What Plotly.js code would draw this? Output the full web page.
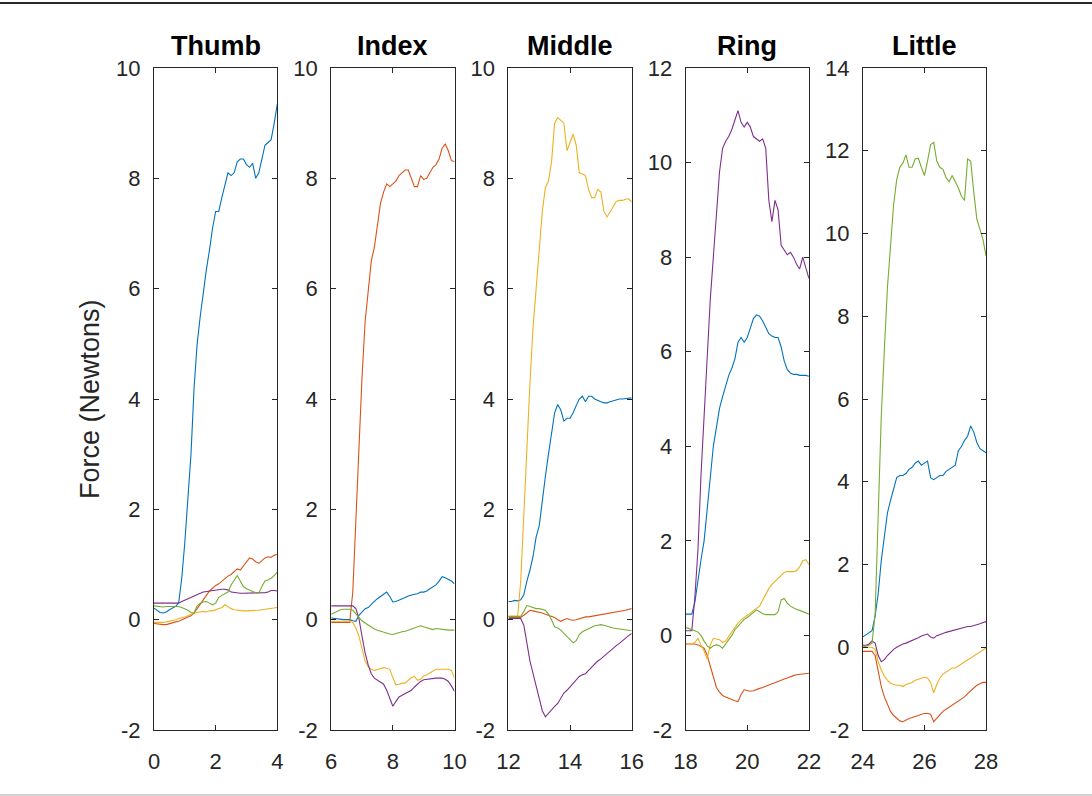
<!DOCTYPE html>
<html>
<head>
<meta charset="utf-8">
<script src="https://cdn.plot.ly/plotly-3.0.1.min.js"></script>
<style>
  html, body { margin: 0; padding: 0; background: #fff; }
  #chart { width: 1092px; height: 796px; }
</style>
</head>
<body>
<div id="chart"></div>
<script>
// time offsets inside each 4 s window
const offsets = [0, 0.1, 0.2, 0.3, 0.4, 0.5, 0.6, 0.7, 0.8, 0.9,
  1.0, 1.1, 1.2, 1.3, 1.4, 1.5, 1.6, 1.7, 1.8, 1.9,
  2.0, 2.1, 2.2, 2.3, 2.4, 2.5, 2.6, 2.7, 2.8, 2.9,
  3.0, 3.1, 3.2, 3.3, 3.4, 3.5, 3.6, 3.7, 3.8, 3.9, 4.0];
const fingers = ["Thumb", "Index", "Middle", "Ring", "Little"];
const windowStart = [0, 6, 12, 18, 24];
const yTop = [10, 10, 10, 12, 14];
const yBottom = -2;

// Thumb press
const thumbBlue = [0.21, 0.17, 0.13, 0.12, 0.14, 0.18, 0.21, 0.24, 0.3, 0.75,
  1.4, 2.2, 3.0, 4.2, 5.0, 5.5, 5.95, 6.35, 6.7, 7.1,
  7.4, 7.4, 7.65, 7.9, 8.1, 8.05, 8.1, 8.3, 8.35, 8.35,
  8.25, 8.2, 8.27, 8.0, 8.1, 8.35, 8.6, 8.65, 8.7, 9.0, 9.35];
const thumbOrange = [-0.07, -0.08, -0.08, -0.09, -0.09, -0.07, -0.06, -0.04, -0.03, 0.0,
  0.03, 0.05, 0.07, 0.12, 0.2, 0.28, 0.38, 0.45, 0.52, 0.57,
  0.62, 0.65, 0.7, 0.75, 0.79, 0.82, 0.87, 0.92, 0.9, 0.97,
  1.05, 1.12, 1.1, 1.05, 1.02, 1.08, 1.12, 1.14, 1.13, 1.17, 1.18];
const thumbYellow = [-0.05, -0.05, -0.06, -0.05, -0.04, -0.03, -0.02, 0.0, 0.02, 0.03,
  0.05, 0.07, 0.1, 0.12, 0.13, 0.14, 0.15, 0.14, 0.16, 0.16,
  0.18, 0.2, 0.22, 0.27, 0.23, 0.2, 0.18, 0.17, 0.16, 0.16,
  0.16, 0.16, 0.17, 0.17, 0.17, 0.18, 0.19, 0.2, 0.21, 0.22, 0.22];
const thumbPurple = [0.3, 0.3, 0.3, 0.3, 0.3, 0.3, 0.3, 0.3, 0.3, 0.33,
  0.35, 0.37, 0.4, 0.43, 0.46, 0.48, 0.5, 0.51, 0.52, 0.53,
  0.54, 0.54, 0.55, 0.55, 0.54, 0.5, 0.49, 0.49, 0.48, 0.48,
  0.48, 0.48, 0.48, 0.48, 0.48, 0.48, 0.49, 0.5, 0.53, 0.53, 0.52];
const thumbGreen = [0.25, 0.24, 0.23, 0.23, 0.24, 0.24, 0.24, 0.25, 0.24, 0.22,
  0.2, 0.17, 0.13, 0.12, 0.25, 0.3, 0.32, 0.33, 0.3, 0.27,
  0.3, 0.4, 0.44, 0.47, 0.5, 0.63, 0.72, 0.8, 0.7, 0.6,
  0.56, 0.53, 0.51, 0.49, 0.48, 0.6, 0.7, 0.72, 0.75, 0.8, 0.86];

// Index press
const indexBlue = [0.03, 0.02, 0.01, 0.0, 0.0, 0.0, 0.0, -0.02, -0.03, 0.08,
  0.15, 0.2, 0.22, 0.28, 0.33, 0.38, 0.42, 0.47, 0.5, 0.42,
  0.32, 0.33, 0.35, 0.37, 0.4, 0.43, 0.45, 0.46, 0.47, 0.5,
  0.5, 0.52, 0.56, 0.6, 0.63, 0.7, 0.78, 0.76, 0.73, 0.7, 0.65];
const indexOrange = [-0.05, -0.05, -0.05, -0.05, -0.05, -0.05, -0.05, 0.5, 1.9, 3.3,
  4.4, 5.4, 5.9, 6.5, 6.75, 7.2, 7.55, 7.75, 7.9, 7.85,
  7.9, 7.95, 8.05, 8.1, 8.15, 8.15, 8.0, 7.85, 7.85, 8.05,
  7.98, 8.0, 8.1, 8.2, 8.25, 8.35, 8.55, 8.62, 8.5, 8.32, 8.3];
const indexYellow = [-0.03, -0.03, -0.03, -0.03, -0.03, -0.03, -0.03, -0.05, -0.15, -0.3,
  -0.55, -0.75, -0.85, -0.9, -0.92, -0.9, -0.88, -0.87, -0.88, -0.9,
  -1.05, -1.18, -1.17, -1.15, -1.15, -1.1, -1.05, -1.03, -1.1, -1.08,
  -1.02, -1.0, -0.97, -0.93, -0.9, -0.9, -0.9, -0.9, -0.9, -0.92, -1.06];
const indexPurple = [0.25, 0.25, 0.25, 0.25, 0.25, 0.25, 0.25, 0.25, 0.2, 0.02,
  -0.3, -0.6, -0.82, -0.98, -1.06, -1.1, -1.13, -1.17, -1.28, -1.42,
  -1.57, -1.48, -1.4, -1.37, -1.34, -1.31, -1.28, -1.22, -1.16, -1.12,
  -1.09, -1.08, -1.07, -1.06, -1.06, -1.06, -1.06, -1.08, -1.12, -1.2, -1.3];
const indexGreen = [0.1, 0.13, 0.16, 0.18, 0.19, 0.19, 0.19, 0.17, 0.1, 0.04,
  -0.02, -0.06, -0.1, -0.14, -0.17, -0.19, -0.21, -0.22, -0.24, -0.26,
  -0.27, -0.25, -0.24, -0.22, -0.21, -0.19, -0.17, -0.14, -0.12, -0.11,
  -0.13, -0.15, -0.17, -0.18, -0.16, -0.17, -0.18, -0.18, -0.19, -0.19, -0.19];

// Middle press
const middleBlue = [0.33, 0.33, 0.35, 0.34, 0.36, 0.45, 0.7, 0.9, 1.15, 1.5,
  1.7, 2.2, 2.6, 3.0, 3.35, 3.75, 3.9, 3.8, 3.6, 3.65,
  3.65, 3.75, 3.88, 4.0, 4.05, 3.95, 4.05, 4.05, 4.0, 3.97,
  3.95, 3.93, 3.93, 3.95, 3.97, 3.98, 4.0, 4.0, 4.01, 4.02, 4.02];
const middleOrange = [0.04, 0.04, 0.04, 0.04, 0.04, 0.08, 0.13, 0.17, 0.16, 0.15,
  0.14, 0.12, 0.1, 0.08, 0.06, 0.04, 0.0, -0.03, 0.0, 0.02,
  0.0, -0.01, 0.0, 0.02, 0.04, 0.05, 0.05, 0.06, 0.07, 0.08,
  0.08, 0.09, 0.1, 0.11, 0.12, 0.13, 0.14, 0.15, 0.17, 0.19, 0.2];
const middleYellow = [0.06, 0.06, 0.06, 0.06, 0.7, 1.9, 3.2, 4.3, 5.3, 6.0,
  6.8, 7.4, 7.83, 7.95, 8.3, 9.0, 9.1, 9.05, 9.0, 8.5,
  8.65, 8.8, 8.6, 8.1, 8.08, 8.05, 7.8, 7.65, 7.65, 7.8,
  7.75, 7.4, 7.3, 7.4, 7.5, 7.58, 7.6, 7.6, 7.62, 7.63, 7.57];
const middlePurple = [0.02, 0.02, 0.02, 0.02, 0.02, -0.1, -0.45, -0.75, -0.98, -1.2,
  -1.46, -1.65, -1.76, -1.7, -1.62, -1.57, -1.52, -1.42, -1.33, -1.28,
  -1.22, -1.15, -1.08, -1.03, -1.0, -0.98, -0.92, -0.86, -0.8, -0.75,
  -0.71, -0.66, -0.61, -0.57, -0.52, -0.47, -0.43, -0.38, -0.33, -0.29, -0.25];
const middleGreen = [0.06, 0.06, 0.06, 0.06, 0.06, 0.15, 0.26, 0.24, 0.22, 0.2,
  0.2, 0.19, 0.17, 0.1, 0.0, -0.13, -0.15, -0.19, -0.25, -0.31,
  -0.36, -0.42, -0.38, -0.27, -0.22, -0.19, -0.17, -0.14, -0.11, -0.1,
  -0.09, -0.1, -0.12, -0.14, -0.15, -0.16, -0.17, -0.18, -0.19, -0.2, -0.2];

// Ring press
const ringBlue = [0.45, 0.45, 0.45, 0.7, 1.2, 1.6, 2.0, 2.7, 3.4, 4.0,
  4.4, 4.8, 5.05, 5.3, 5.5, 5.65, 5.85, 6.2, 6.3, 6.2,
  6.3, 6.5, 6.7, 6.78, 6.75, 6.65, 6.5, 6.38, 6.33, 6.3,
  6.3, 6.1, 5.8, 5.62, 5.55, 5.52, 5.52, 5.5, 5.5, 5.5, 5.48];
const ringOrange = [-0.18, -0.18, -0.18, -0.18, -0.2, -0.23, -0.27, -0.42, -0.65, -0.9,
  -1.1, -1.2, -1.27, -1.3, -1.33, -1.36, -1.38, -1.4, -1.25, -1.15,
  -1.17, -1.18, -1.17, -1.14, -1.12, -1.1, -1.07, -1.04, -1.02, -1.0,
  -0.97, -0.95, -0.92, -0.9, -0.87, -0.85, -0.83, -0.82, -0.81, -0.8, -0.8];
const ringYellow = [-0.18, -0.18, -0.18, -0.15, -0.06, -0.2, -0.33, -0.5, -0.2, -0.06,
  -0.08, -0.09, -0.15, -0.12, -0.02, 0.08, 0.18, 0.26, 0.33, 0.38,
  0.43, 0.47, 0.52, 0.56, 0.62, 0.75, 0.88, 0.99, 1.08, 1.15,
  1.2, 1.27, 1.33, 1.35, 1.35, 1.35, 1.37, 1.45, 1.58, 1.6, 1.5];
const ringPurple = [0.1, 0.1, 0.1, 0.8, 1.8, 3.4, 4.6, 5.8, 7.1, 8.0,
  8.9, 9.8, 10.3, 10.45, 10.55, 10.7, 10.9, 11.1, 10.85, 10.75,
  10.85, 10.75, 10.55, 10.5, 10.45, 10.5, 10.3, 9.2, 8.75, 9.2,
  9.0, 8.25, 8.15, 8.05, 8.1, 8.0, 7.85, 7.75, 8.0, 7.75, 7.55];
const ringGreen = [0.17, 0.15, 0.12, 0.1, 0.07, 0.0, -0.12, -0.22, -0.27, -0.22,
  -0.2, -0.22, -0.27, -0.18, -0.08, 0.0, 0.12, 0.2, 0.28, 0.34,
  0.38, 0.44, 0.5, 0.54, 0.5, 0.46, 0.44, 0.44, 0.44, 0.44,
  0.5, 0.75, 0.78, 0.68, 0.62, 0.58, 0.55, 0.53, 0.5, 0.47, 0.45];

// Little press
const littleBlue = [0.25, 0.3, 0.35, 0.4, 0.75, 1.3, 2.1, 2.75, 3.25, 3.55,
  3.85, 4.1, 4.15, 4.15, 4.2, 4.3, 4.35, 4.45, 4.5, 4.4,
  4.45, 4.5, 4.1, 4.05, 4.1, 4.15, 4.15, 4.25, 4.3, 4.35,
  4.4, 4.75, 4.85, 5.0, 5.1, 5.35, 5.2, 4.95, 4.8, 4.75, 4.7];
const littleOrange = [-0.1, -0.1, -0.1, -0.1, -0.2, -0.6, -0.95, -1.2, -1.4, -1.55,
  -1.65, -1.72, -1.78, -1.8, -1.75, -1.72, -1.7, -1.68, -1.65, -1.62,
  -1.6, -1.6, -1.62, -1.8, -1.72, -1.62, -1.55, -1.5, -1.45, -1.4,
  -1.35, -1.3, -1.25, -1.2, -1.12, -1.05, -0.98, -0.92, -0.88, -0.85, -0.85];
const littleYellow = [0.0, 0.0, 0.0, 0.0, -0.05, -0.35, -0.55, -0.7, -0.8, -0.87,
  -0.9, -0.92, -0.92, -0.95, -0.9, -0.88, -0.85, -0.8, -0.78, -0.75,
  -0.72, -0.75, -0.85, -1.1, -0.9, -0.75, -0.65, -0.6, -0.55, -0.5,
  -0.5, -0.45, -0.4, -0.35, -0.3, -0.25, -0.2, -0.15, -0.1, -0.05, -0.02];
const littlePurple = [0.05, 0.05, 0.08, 0.15, 0.1, -0.2, -0.35, -0.3, -0.2, -0.12,
  -0.05, 0.0, 0.05, 0.08, 0.1, 0.13, 0.16, 0.2, 0.23, 0.27,
  0.3, 0.32, 0.25, 0.22, 0.28, 0.3, 0.33, 0.36, 0.38, 0.4,
  0.42, 0.44, 0.45, 0.47, 0.5, 0.5, 0.52, 0.55, 0.57, 0.6, 0.62];
const littleGreen = [0.0, 0.02, 0.05, 0.1, 0.8, 3.2, 5.6, 7.2, 8.7, 9.7,
  10.7, 11.3, 11.6, 11.7, 11.9, 11.6, 11.6, 11.8, 11.82, 11.6,
  11.4, 11.75, 12.15, 12.2, 11.75, 11.6, 11.55, 11.35, 11.25, 11.4,
  11.25, 11.1, 10.9, 10.8, 11.8, 11.75, 11.0, 10.35, 10.1, 9.85, 9.45];

const sensors = [
  [thumbBlue, thumbOrange, thumbYellow, thumbPurple, thumbGreen],
  [indexBlue, indexOrange, indexYellow, indexPurple, indexGreen],
  [middleBlue, middleOrange, middleYellow, middlePurple, middleGreen],
  [ringBlue, ringOrange, ringYellow, ringPurple, ringGreen],
  [littleBlue, littleOrange, littleYellow, littlePurple, littleGreen],
];

const colors = ["#0072BD", "#D95319", "#EDB120", "#7E2F8E", "#77AC30"];
const W = 1092, H = 796;
const font = "Liberation Sans, Arial, Helvetica, sans-serif";

// tick labels use a plain hyphen for negatives, as in the source figure
function evenTicks(lo, hi) {
  const vals = [];
  for (let v = lo; v <= hi; v += 2) vals.push(v);
  return { tickvals: vals, ticktext: vals.map((v) => String(v)) };
}

const traces = [];
const layout = {
  width: W,
  height: H,
  margin: { l: 0, r: 0, t: 0, b: 0 },
  paper_bgcolor: "#ffffff",
  plot_bgcolor: "#ffffff",
  showlegend: false,
  annotations: [],
  shapes: [
    { type: "line", xref: "paper", yref: "paper", x0: 0, x1: 1,
      y0: (H - 3) / H, y1: (H - 3) / H, line: { color: "#2a2a2a", width: 2 } },
    { type: "line", xref: "paper", yref: "paper", x0: 0, x1: 1,
      y0: 1 / H, y1: 1 / H, line: { color: "#c4c4c4", width: 1.5 } },
  ],
};

const yDomain = [66 / H, 728 / H];

fingers.forEach((name, i) => {
  const n = i === 0 ? "" : String(i + 1);
  const left = 154 + 177.2 * i;
  const right = left + 123.3;
  const xs = offsets.map((o) => windowStart[i] + o);

  sensors[i].forEach((ys, j) => {
    traces.push({
      x: xs,
      y: ys,
      type: "scatter",
      mode: "lines",
      line: { color: colors[j], width: 1.1 },
      xaxis: "x" + n,
      yaxis: "y" + n,
      hoverinfo: "skip",
    });
  });

  const common = {
    showline: true,
    linecolor: "#262626",
    linewidth: 1,
    mirror: "allticks",
    ticks: "inside",
    ticklen: 5,
    tickwidth: 1,
    tickcolor: "#262626",
    showgrid: false,
    zeroline: false,
    tickmode: "array",
    tickfont: { family: font, size: 22, color: "#262626" },
    fixedrange: true,
  };

  layout["xaxis" + n] = Object.assign({}, common, evenTicks(windowStart[i], windowStart[i] + 4), {
    domain: [left / W, right / W],
    range: [windowStart[i], windowStart[i] + 4],
    anchor: "y" + n,
    ticklabelstandoff: 12,
  });
  layout["yaxis" + n] = Object.assign({}, common, evenTicks(yBottom, yTop[i]), {
    domain: yDomain,
    range: [yBottom, yTop[i]],
    anchor: "x" + n,
    ticklabelstandoff: 8,
  });

  layout.annotations.push({
    text: "<b>" + name + "</b>",
    xref: "paper",
    yref: "paper",
    x: (left + right) / 2 / W,
    y: yDomain[1],
    xanchor: "center",
    yanchor: "bottom",
    yshift: 5,
    showarrow: false,
    font: { family: font, size: 27, color: "#000000" },
  });
});

layout.annotations.push({
  text: "Force (Newtons)",
  xref: "paper",
  yref: "paper",
  x: 90 / W,
  y: (yDomain[0] + yDomain[1]) / 2,
  xanchor: "center",
  yanchor: "middle",
  textangle: -90,
  showarrow: false,
  font: { family: font, size: 27, color: "#262626" },
});

Plotly.newPlot("chart", traces, layout, { displayModeBar: false, staticPlot: true });
</script>
</body>
</html>
